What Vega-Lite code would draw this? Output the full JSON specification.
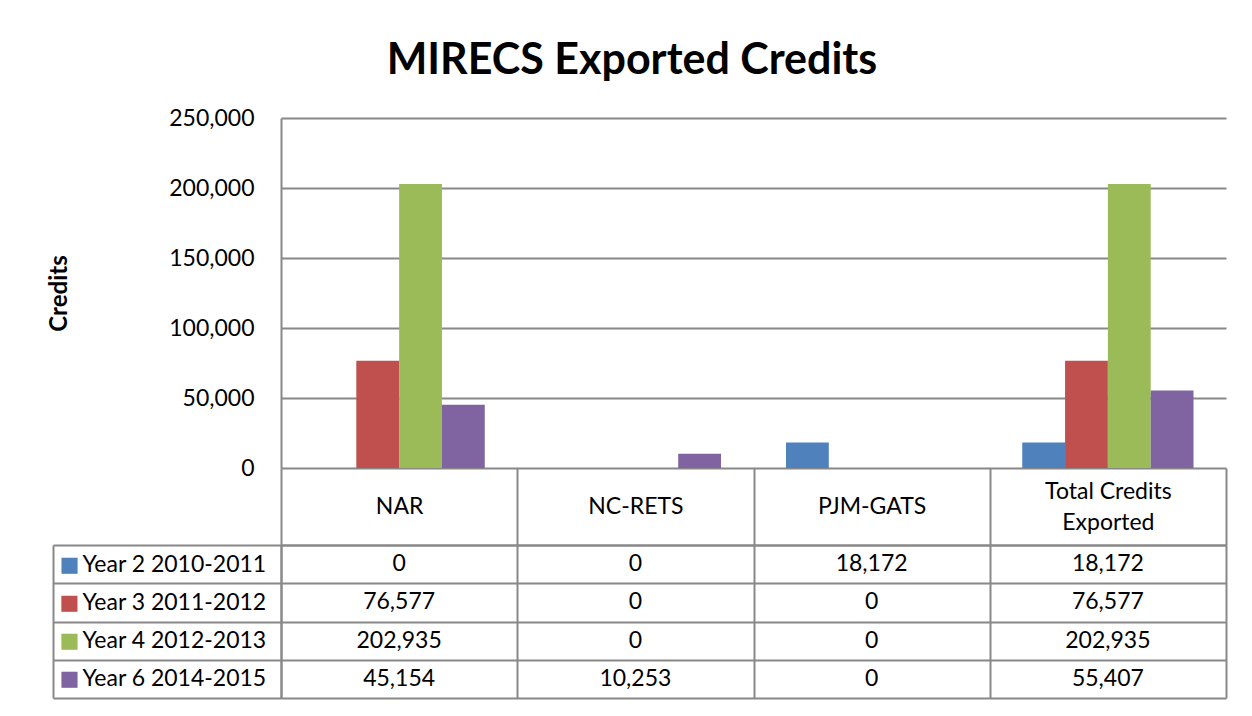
{
  "$schema": "https://vega.github.io/schema/vega-lite/v6.json",
  "background": "white",
  "padding": {"left": 46, "top": 40, "right": 27, "bottom": 10},
  "title": {"text": "MIRECS Exported Credits", "font": "Lato", "fontSize": 43, "fontWeight": "bold", "color": "black", "anchor": "middle", "offset": 24, "dx": -5},
  "datasets": {
    "credits": [
      {"category": "NAR", "series": "Year 2 2010-2011", "value": 0},
      {"category": "NAR", "series": "Year 3 2011-2012", "value": 76577},
      {"category": "NAR", "series": "Year 4 2012-2013", "value": 202935},
      {"category": "NAR", "series": "Year 6 2014-2015", "value": 45154},
      {"category": "NC-RETS", "series": "Year 2 2010-2011", "value": 0},
      {"category": "NC-RETS", "series": "Year 3 2011-2012", "value": 0},
      {"category": "NC-RETS", "series": "Year 4 2012-2013", "value": 0},
      {"category": "NC-RETS", "series": "Year 6 2014-2015", "value": 10253},
      {"category": "PJM-GATS", "series": "Year 2 2010-2011", "value": 18172},
      {"category": "PJM-GATS", "series": "Year 3 2011-2012", "value": 0},
      {"category": "PJM-GATS", "series": "Year 4 2012-2013", "value": 0},
      {"category": "PJM-GATS", "series": "Year 6 2014-2015", "value": 0},
      {"category": "Total Credits Exported", "series": "Year 2 2010-2011", "value": 18172},
      {"category": "Total Credits Exported", "series": "Year 3 2011-2012", "value": 76577},
      {"category": "Total Credits Exported", "series": "Year 4 2012-2013", "value": 202935},
      {"category": "Total Credits Exported", "series": "Year 6 2014-2015", "value": 55407}
    ]
  },
  "spacing": 77,
  "bounds": "flush",
  "vconcat": [
    {
      "width": 945,
      "height": 350,
      "data": {"name": "credits"},
      "mark": {"type": "bar"},
      "encoding": {
        "x": {"field": "category", "type": "nominal", "sort": ["NAR", "NC-RETS", "PJM-GATS", "Total Credits Exported"], "scale": {"paddingInner": 0.275, "paddingOuter": 0.1375}, "axis": null},
        "xOffset": {"field": "series", "type": "nominal", "sort": ["Year 2 2010-2011", "Year 3 2011-2012", "Year 4 2012-2013", "Year 6 2014-2015"], "scale": {"paddingInner": 0, "paddingOuter": 0}},
        "y": {
          "field": "value", "type": "quantitative",
          "scale": {"domain": [0, 250000], "nice": false},
          "axis": {
            "values": [0, 50000, 100000, 150000, 200000, 250000],
            "format": ",d",
            "title": "Credits",
            "titleFont": "Lato", "titleFontSize": 24, "titleFontWeight": "bold", "titleColor": "black",
            "titleX": -222, "titleY": 175, "titleBaseline": "middle", "titleAngle": -90,
            "grid": true, "gridColor": "#888888", "gridWidth": 2,
            "domain": true, "domainColor": "#888888", "domainWidth": 2,
            "ticks": false, "labelPadding": 27,
            "labelFont": "Lato", "labelFontSize": 23, "labelColor": "black"
          }
        },
        "color": {
          "field": "series", "type": "nominal",
          "sort": ["Year 2 2010-2011", "Year 3 2011-2012", "Year 4 2012-2013", "Year 6 2014-2015"],
          "scale": {"range": ["#4F81BD", "#C0504D", "#9BBB59", "#8064A2"]},
          "legend": null
        }
      }
    },
    {
      "width": 945,
      "height": 153,
      "data": {"name": "credits"},
      "layer": [
        {
          "mark": {"type": "text", "font": "Lato", "fontSize": 23, "color": "black"},
          "encoding": {
            "x": {
              "field": "category", "type": "nominal",
              "sort": ["NAR", "NC-RETS", "PJM-GATS", "Total Credits Exported"],
              "scale": {"paddingInner": 0, "paddingOuter": 0},
              "axis": {
                "orient": "top", "title": null, "tickBand": "extent",
                "ticks": true, "tickSize": 77, "tickColor": "#888888", "tickWidth": 2,
                "grid": true, "gridColor": "#888888", "gridWidth": 2,
                "domain": true, "domainColor": "#888888", "domainWidth": 2,
                "labelAngle": 0, "labelBaseline": "middle",
                "labelPadding": {"condition": {"test": "datum.value === 'Total Credits Exported'", "value": -23}, "value": -38},
                "labelFont": "Lato", "labelFontSize": 23, "labelColor": "black",
                "labelLimit": 0, "labelLineHeight": 31,
                "labelExpr": "datum.value == 'Total Credits Exported' ? ['Total Credits', 'Exported'] : datum.value",
                "minExtent": 77, "maxExtent": 77
              }
            },
            "y": {
              "field": "series", "type": "nominal",
              "sort": ["Year 2 2010-2011", "Year 3 2011-2012", "Year 4 2012-2013", "Year 6 2014-2015"],
              "scale": {"paddingInner": 0, "paddingOuter": 0},
              "axis": {
                "orient": "left", "title": null, "tickBand": "extent",
                "ticks": true, "tickSize": 228, "tickColor": "#888888", "tickWidth": 2,
                "grid": true, "gridColor": "#888888", "gridWidth": 2,
                "domain": true, "domainColor": "#888888", "domainWidth": 2,
                "labelAlign": "left", "labelPadding": -29, "labelBaseline": "middle",
                "labelFont": "Lato", "labelFontSize": 23, "labelColor": "black", "labelLimit": 0
              }
            },
            "text": {"field": "value", "type": "quantitative", "format": ","}
          }
        },
        {
          "mark": {"type": "text", "opacity": 0},
          "encoding": {
            "y": {
              "field": "series", "type": "nominal",
              "sort": ["Year 2 2010-2011", "Year 3 2011-2012", "Year 4 2012-2013", "Year 6 2014-2015"],
              "scale": {"paddingInner": 0, "paddingOuter": 0},
              "axis": {
                "orient": "left", "offset": 228, "title": null,
                "ticks": false, "tickSize": 0, "grid": false,
                "domain": true, "domainColor": "#888888", "domainWidth": 2,
                "labelExpr": "'■'",
                "labelAlign": "left", "labelPadding": -6, "labelBaseline": "middle",
                "labelFont": "DejaVu Sans", "labelFontSize": 21,
                "labelColor": {
                  "condition": [
                    {"test": "datum.value === 'Year 2 2010-2011'", "value": "#4F81BD"},
                    {"test": "datum.value === 'Year 3 2011-2012'", "value": "#C0504D"},
                    {"test": "datum.value === 'Year 4 2012-2013'", "value": "#9BBB59"}
                  ],
                  "value": "#8064A2"
                }
              }
            },
            "text": {"value": ""}
          }
        }
      ],
      "resolve": {"scale": {"y": "independent"}}
    }
  ],
  "config": {
    "view": {"stroke": null},
    "font": "Lato"
  }
}
